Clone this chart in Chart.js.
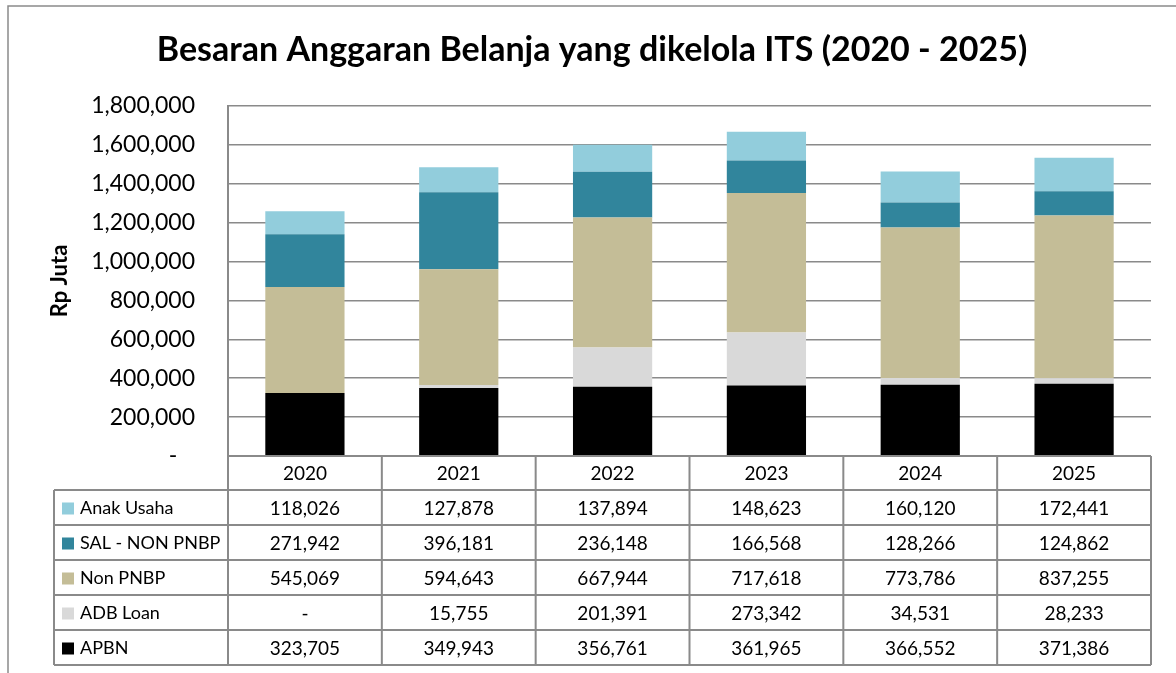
<!DOCTYPE html>
<html>
<head>
<meta charset="utf-8">
<script src="https://cdn.jsdelivr.net/npm/chart.js@4.4.1/dist/chart.umd.min.js"></script>
<style>
  html, body { margin: 0; padding: 0; background: #fff; }
  #wrap { width: 1176px; height: 673px; position: relative; }
</style>
</head>
<body>
<div id="wrap"><canvas id="chart"></canvas></div>
<script>
const years = ["2020", "2021", "2022", "2023", "2024", "2025"];
const apbn = [323705, 349943, 356761, 361965, 366552, 371386];
const adbLoan = [0, 15755, 201391, 273342, 34531, 28233];
const nonPnbp = [545069, 594643, 667944, 717618, 773786, 837255];
const salNonPnbp = [271942, 396181, 236148, 166568, 128266, 124862];
const anakUsaha = [118026, 127878, 137894, 148623, 160120, 172441];

const FONT = "Lato, 'Open Sans', sans-serif";
const GRID = "#8a8a8a";

function fmt(v) {
    return v === 0 ? "-" : v.toLocaleString("en-US");
}

// stacking order bottom -> top
const series = [
    { label: "APBN", data: apbn, color: "#000000" },
    { label: "ADB Loan", data: adbLoan, color: "#d9d9d9" },
    { label: "Non PNBP", data: nonPnbp, color: "#c4bd97" },
    { label: "SAL - NON PNBP", data: salNonPnbp, color: "#31859c" },
    { label: "Anak Usaha", data: anakUsaha, color: "#92cddc" }
];

const frameAndTable = {
    id: "frameAndTable",
    afterDraw(chart) {
        const ctx = chart.ctx;
        const area = chart.chartArea;
        const xs = chart.scales.x;
        const colW = area.width / years.length;
        const headTop = area.bottom;
        const headH = 34;
        const rowH = 35;
        const legendLeft = 54;
        const rows = series.slice().reverse();
        const tableBottom = headTop + headH + rowH * rows.length;

        ctx.save();
        // outer frame
        ctx.strokeStyle = GRID;
        ctx.lineWidth = 1.5;
        ctx.beginPath();
        ctx.moveTo(8, chart.height + 2);
        ctx.lineTo(8, 6);
        ctx.lineTo(chart.width + 2, 6);
        ctx.stroke();

        // title
        ctx.fillStyle = "#000";
        ctx.font = "bold 34px " + FONT;
        ctx.textAlign = "center";
        ctx.textBaseline = "middle";
        ctx.fillText("Besaran Anggaran Belanja yang dikelola ITS (2020 - 2025)", 592, 50);

        // table lines
        ctx.lineWidth = 2;
        ctx.beginPath();
        ctx.moveTo(area.left, headTop);
        ctx.lineTo(area.right, headTop);
        for (let r = 0; r <= rows.length; r++) {
            const y = headTop + headH + r * rowH;
            ctx.moveTo(legendLeft, y);
            ctx.lineTo(area.right, y);
        }
        for (let c = 0; c <= years.length; c++) {
            const x = area.left + c * colW;
            ctx.moveTo(x, headTop);
            ctx.lineTo(x, tableBottom);
        }
        ctx.moveTo(legendLeft, headTop + headH);
        ctx.lineTo(legendLeft, tableBottom);
        ctx.stroke();

        // header
        ctx.font = "19px " + FONT;
        ctx.fillStyle = "#000";
        ctx.textAlign = "center";
        years.forEach((y, i) => {
            ctx.fillText(y, xs.getPixelForValue(i), headTop + headH / 2 + 1);
        });

        // rows
        rows.forEach((s, r) => {
            const cy = headTop + headH + r * rowH + rowH / 2 + 1;
            ctx.fillStyle = s.color;
            ctx.fillRect(legendLeft + 8, cy - 6, 12, 12);
            ctx.fillStyle = "#000";
            ctx.textAlign = "left";
            ctx.font = "18px " + FONT;
            ctx.fillText(s.label, legendLeft + 26, cy);
            ctx.textAlign = "center";
            ctx.font = "19px " + FONT;
            s.data.forEach((v, i) => {
                ctx.fillText(fmt(v), xs.getPixelForValue(i), cy);
            });
        });
        ctx.restore();
    }
};

new Chart(document.getElementById("chart"), {
    type: "bar",
    data: {
        labels: years,
        datasets: series.map(s => ({
            label: s.label,
            data: s.data,
            backgroundColor: s.color,
            borderWidth: 0,
            barPercentage: 0.515,
            categoryPercentage: 1
        }))
    },
    options: {
        responsive: true,
        maintainAspectRatio: false,
        animation: false,
        layout: { padding: { top: 106, right: 25, bottom: 217, left: 0 } },
        plugins: {
            legend: { display: false },
            title: { display: false },
            tooltip: { enabled: false }
        },
        scales: {
            x: {
                stacked: true,
                display: false
            },
            y: {
                stacked: true,
                min: 0,
                max: 1800000,
                afterFit(scale) { scale.width = 228; },
                ticks: {
                    stepSize: 200000,
                    padding: 33,
                    color: "#000",
                    font: { family: FONT, size: 23 },
                    callback: v => v === 0 ? "-   " : v.toLocaleString("en-US")
                },
                grid: { color: GRID, lineWidth: 1.5, drawTicks: false },
                border: { color: GRID, width: 2 },
                title: {
                    display: true,
                    text: "Rp Juta",
                    color: "#000",
                    font: { family: FONT, size: 22, weight: "bold" },
                    padding: { top: 47, bottom: 0 }
                }
            }
        }
    },
    plugins: [frameAndTable]
});
</script>
</body>
</html>
